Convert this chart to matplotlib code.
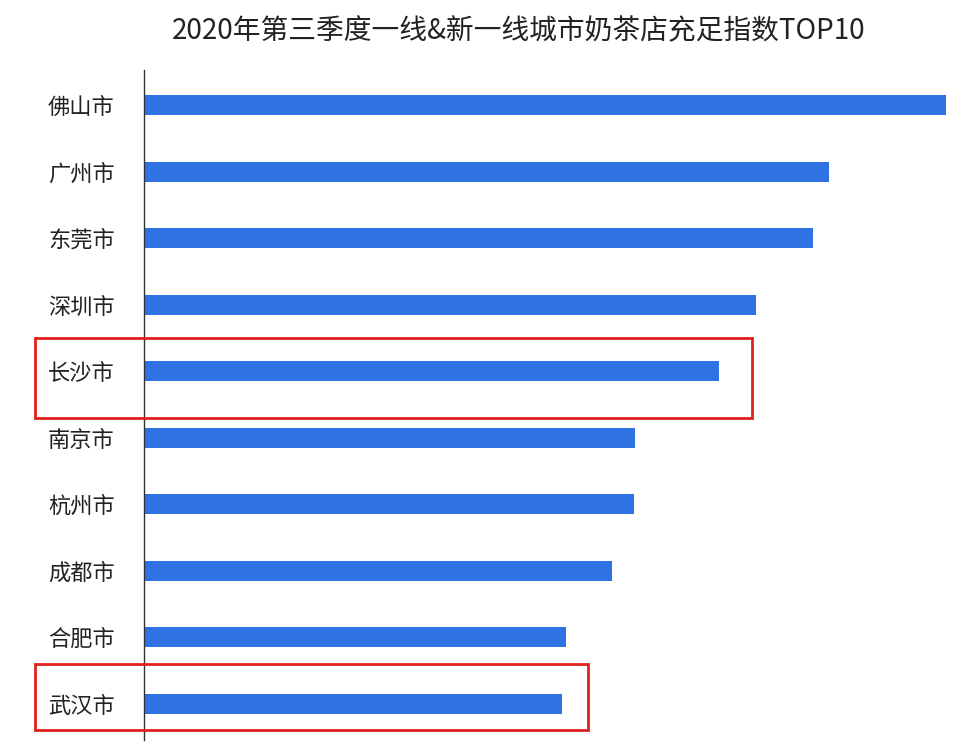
import matplotlib.pyplot as plt
from matplotlib.patches import Rectangle
import matplotlib.transforms as mtransforms

plt.rcParams['font.family'] = ['Noto Sans CJK SC', 'DejaVu Sans']

cities = ['佛山市', '广州市', '东莞市', '深圳市', '长沙市',
          '南京市', '杭州市', '成都市', '合肥市', '武汉市']
index_values = [100, 85.4, 83.4, 76.4, 71.7, 61.3, 61.1, 58.4, 52.7, 52.1]
highlighted = ['长沙市', '武汉市']

fig = plt.figure(figsize=(9.66, 7.5), dpi=100)
ax = fig.add_axes([0.149, 0.013, 0.830, 0.894])

ypos = list(range(len(cities)))
ax.barh(ypos, index_values, height=0.3, color='#2f72e3')
ax.set_xlim(0, 100)
ax.set_ylim(9.55, -0.53)
ax.set_yticks(ypos)
ax.set_yticklabels(cities, fontsize=16, color='#222222')
ax.tick_params(axis='y', length=0, pad=21)
ax.set_xticks([])
for s in ['top', 'right', 'bottom']:
    ax.spines[s].set_visible(False)
ax.spines['left'].set_color('#333333')
ax.spines['left'].set_linewidth(1)

fig.suptitle('2020年第三季度一线&新一线城市奶茶店充足指数TOP10',
             x=0.537, y=0.978, fontsize=20, fontweight='medium', color='#222222')

# red highlight boxes around selected cities
x0_fig = 35 / 966
trans = mtransforms.blended_transform_factory(fig.transFigure, ax.transData)
for name, (up, down, extra) in zip(highlighted, [(0.5, 0.7, 4.2), (0.59, 0.39, 3.3)]):
    i = cities.index(name)
    x_right = ax.transData.transform((index_values[i] + extra, 0))[0]
    x_right = fig.transFigure.inverted().transform((x_right, 0))[0]
    rect = Rectangle((x0_fig, i - up), x_right - x0_fig, up + down,
                     transform=trans, fill=False, edgecolor='#e0201b',
                     linewidth=2, clip_on=False)
    fig.add_artist(rect)

fig.savefig('out.png', dpi=100)
